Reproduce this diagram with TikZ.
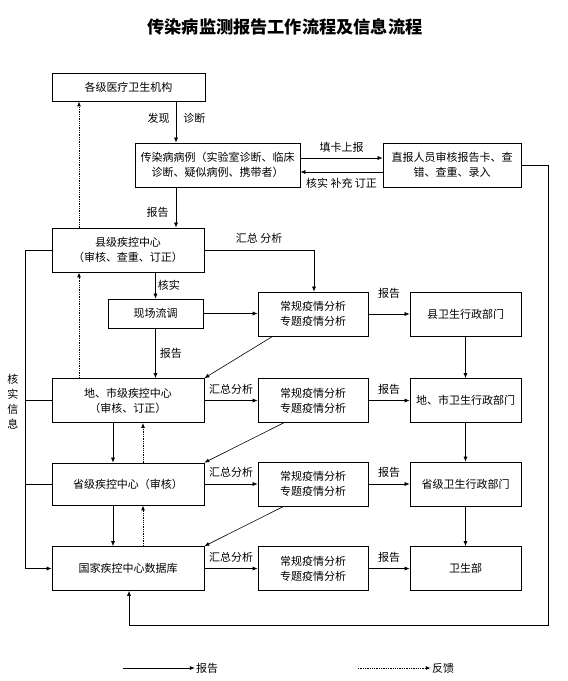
\documentclass[tikz,border=0pt]{standalone}
\usepackage{fontspec}
\newfontfamily\cjk{Noto Sans CJK SC}
\usetikzlibrary{arrows.meta}

\begin{document}
\begin{tikzpicture}[
    x=1pt, y=-1pt,
    >={Latex[length=5pt,width=4pt]},
    every node/.style={font=\cjk\fontsize{11}{15}\selectfont},
    box/.style={draw, line width=0.7pt, align=center, inner sep=1pt},
    sidebox/.style={box, minimum width=152pt, minimum height=44pt},
    anabox/.style={box, minimum width=110pt, minimum height=44pt},
    deptbox/.style={box, minimum width=111pt, minimum height=44pt},
    lbl/.style={inner sep=1pt},
    flow/.style={->, line width=0.6pt},
    fb/.style={->, line width=1pt, dash pattern=on 1.3pt off 1pt},
  ]

  \useasboundingbox (0,0) rectangle (568,681);

  % Title
  \node[font=\cjk\bfseries\fontsize{17.2}{20}\selectfont] (title) at (285,27)
    {传染病监测报告工作流程及信息流程};

  % Top part: hospitals, cases, direct reporting
  \node[box, minimum width=153pt, minimum height=28pt] (med) at (128.5,87)
    {各级医疗卫生机构};
  \node[box, minimum width=165pt, minimum height=44pt] (case) at (217.5,165)
    {传染病病例（实验室诊断、临床\\诊断、疑似病例、携带者）};
  \node[box, minimum width=138pt, minimum height=44pt] (direct) at (452,165)
    {直报人员审核报告卡、查\\错、查重、录入};

  % Left column: CDC levels
  \node[sidebox] (county) at (128,250) {县级疾控中心\\（审核、查重、订正）};
  \node[box, minimum width=95pt, minimum height=29pt] (field) at (155.5,313.5)
    {现场流调};
  \node[sidebox] (city) at (128,400.5) {地、市级疾控中心\\（审核、订正）};
  \node[sidebox, minimum height=42pt] (prov) at (128,484) {省级疾控中心（审核）};
  \node[sidebox] (nation) at (128,568.5) {国家疾控中心数据库};

  % Middle column: analyses
  \node[anabox] (ana1) at (313,314) {常规疫情分析\\专题疫情分析};
  \node[anabox] (ana2) at (313,400.5) {常规疫情分析\\专题疫情分析};
  \node[anabox] (ana3) at (313,484) {常规疫情分析\\专题疫情分析};
  \node[anabox] (ana4) at (313,568.5) {常规疫情分析\\专题疫情分析};

  % Right column: health administration
  \node[deptbox] (chealth) at (465.5,314) {县卫生行政部门};
  \node[deptbox] (cityhealth) at (465.5,400.5) {地、市卫生行政部门};
  \node[deptbox] (provhealth) at (465.5,484) {省级卫生行政部门};
  \node[deptbox] (moh) at (465.5,568.5) {卫生部};

  % Lanes for vertical connectors
  \coordinate (lnA) at (176,0);
  \coordinate (lnFb) at (79,0);
  \coordinate (lnDn) at (113,0);
  \coordinate (lnUp) at (143,0);
  \coordinate (lnL) at (25,0);
  \coordinate (lnSum) at (314,0);
  \coordinate (rtc) at (548,625);
  \coordinate (btc) at (129,625);

  % Case finding and reporting
  \draw[flow] (med.south -| lnA) -- (case.north -| lnA)
    node[lbl, pos=0.4, left=5pt] {发现}
    node[lbl, pos=0.4, right=6pt] {诊断};
  \draw[flow] (case.south -| lnA) -- (county.north -| lnA)
    node[lbl, pos=0.63, left=6pt] {报告};
  \draw[flow] ([yshift=7pt]case.east) -- ([yshift=7pt]direct.west)
    node[lbl, midway, above=4.5pt] {填卡上报};
  \draw[flow] ([yshift=-7pt]direct.west) -- ([yshift=-7pt]case.east)
    node[lbl, midway, below=4.5pt] {核实 补充 订正};
  \draw[flow] (direct.east) -| (rtc) -- (btc) -- (nation.south -| btc);

  % County level
  \draw[flow] (county.east) -| (ana1.north -| lnSum)
    node[lbl, pos=0.25, above=5.5pt] {汇总 分析};
  \draw[flow] (county.south -| field.north) -- (field.north)
    node[lbl, midway, right=1pt] {核实};
  \draw[flow] (field.east) -- (field.east -| ana1.west);
  \draw[flow] (field.south) -- (field.south |- city.north)
    node[lbl, midway, right=3pt] {报告};
  \draw[flow] (ana1.east) -- (chealth.west)
    node[lbl, midway, above=14pt] {报告};

  % City, province, nation rows
  \draw[flow] (city.east) -- (ana2.west) node[lbl, midway, above=5pt] {汇总分析};
  \draw[flow] (ana2.east) -- (cityhealth.west) node[lbl, midway, above=5pt] {报告};
  \draw[flow] (prov.east) -- (ana3.west) node[lbl, midway, above=5pt] {汇总分析};
  \draw[flow] (ana3.east) -- (provhealth.west) node[lbl, midway, above=5pt] {报告};
  \draw[flow] (nation.east) -- (ana4.west) node[lbl, midway, above=5pt] {汇总分析};
  \draw[flow] (ana4.east) -- (moh.west) node[lbl, midway, above=5pt] {报告};

  % Analyses back to next level
  \draw[flow] ([xshift=15pt]ana1.south west) -- (city.north east);
  \draw[flow] ([xshift=26pt]ana2.south west) -- (prov.north east);
  \draw[flow] ([xshift=26pt]ana3.south west) -- (nation.north east);

  % Administration chain
  \draw[flow] (chealth.south) -- (cityhealth.north);
  \draw[flow] (cityhealth.south) -- (provhealth.north);
  \draw[flow] (provhealth.south) -- (moh.north);

  % Reporting down, feedback up
  \draw[flow] (city.south -| lnDn) -- (prov.north -| lnDn);
  \draw[flow] (prov.south -| lnDn) -- (nation.north -| lnDn);
  \draw[fb] (nation.north -| lnUp) -- (prov.south -| lnUp);
  \draw[fb] (prov.north -| lnUp) -- (city.south -| lnUp);
  \draw[fb] (city.north -| lnFb) -- (county.south -| lnFb);
  \draw[fb] (county.north -| lnFb) -- (med.south -| lnFb);

  % Verified information line
  \draw[flow] (county.west) -| (lnL |- nation.west) -- (nation.west);
  \draw[line width=0.6pt] (city.west) -- (city.west -| lnL);
  \draw[line width=0.6pt] (prov.west) -- (prov.west -| lnL);
  \node[align=center] (chk) at (13,402) {核\\实\\信\\息};

  % Legend
  \node[lbl] (lgrep) at (207,668) {报告};
  \node[lbl] (lgfb) at (443,668) {反馈};
  \coordinate (lgA) at (123,668);
  \coordinate (lgB) at (358,668);
  \draw[flow] (lgA) -- (lgrep.west);
  \draw[fb] (lgB) -- (lgfb.west);

\end{tikzpicture}
\end{document}
